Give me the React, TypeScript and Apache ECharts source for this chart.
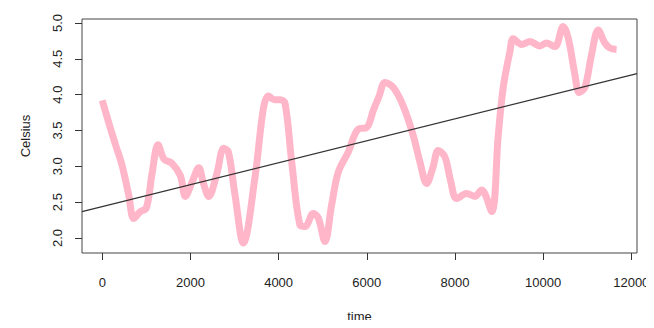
import React, { useEffect, useRef } from "react";
import * as echarts from "echarts";

const timeValues = [0, 150, 300, 450, 600, 714, 850, 1000, 1130, 1265, 1400, 1583, 1771, 1885, 2050, 2188, 2300, 2415, 2600, 2755, 2860, 3011, 3200, 3465, 3653, 3766, 3900, 4032, 4145, 4297, 4485, 4600, 4787, 4900, 5052, 5200, 5354, 5580, 5807, 5998, 6148, 6280, 6413, 6601, 6828, 7054, 7206, 7358, 7500, 7621, 7773, 7900, 8038, 8265, 8453, 8605, 8832, 8982, 9095, 9247, 9322, 9512, 9701, 9927, 10079, 10268, 10456, 10570, 10721, 10819, 10948, 11100, 11250, 11401, 11515, 11667];
const celsiusValues = [3.92, 3.6, 3.3, 3.01, 2.6, 2.27, 2.36, 2.42, 2.9, 3.3, 3.1, 3.04, 2.87, 2.58, 2.8, 2.98, 2.75, 2.58, 2.9, 3.25, 3.2, 2.6, 1.93, 2.85, 3.8, 3.98, 3.93, 3.93, 3.88, 3.06, 2.18, 2.16, 2.34, 2.28, 1.95, 2.45, 2.92, 3.2, 3.52, 3.54, 3.78, 3.98, 4.17, 4.1, 3.84, 3.43, 3.06, 2.76, 2.98, 3.22, 3.13, 2.8, 2.55, 2.62, 2.58, 2.67, 2.37, 3.43, 4.1, 4.6, 4.78, 4.7, 4.74, 4.68, 4.72, 4.67, 4.95, 4.79, 4.28, 4.03, 4.1, 4.56, 4.9, 4.72, 4.65, 4.63];
const trendIntercept = 2.438;
const trendSlope = 0.000153;
const xTicks = [0, 2000, 4000, 6000, 8000, 10000, 12000];
const yTicks = [2.0, 2.5, 3.0, 3.5, 4.0, 4.5, 5.0];
const xMin = -460;
const xMax = 12130;
const yMin = 1.79;
const yMax = 5.055;

export default function App() {
  const ref = useRef<HTMLDivElement>(null);
  useEffect(() => {
    if (!ref.current) return;
    const chart = echarts.init(ref.current, null, { renderer: "svg" });
    const font = "Liberation Sans, Arial, sans-serif";
    const pink = timeValues.map((t, i) => [t, celsiusValues[i]]);
    const trend = [xMin, xMax].map((t) => [t, trendIntercept + trendSlope * t]);
    chart.setOption({
      animation: false,
      backgroundColor: "#ffffff",
      grid: {
        left: 82,
        right: 17,
        top: 19,
        bottom: 73,
        show: true,
        borderColor: "#444",
        borderWidth: 1,
        backgroundColor: "transparent",
      },
      xAxis: {
        type: "value",
        min: xMin,
        max: xMax,
        name: "time",
        nameLocation: "middle",
        nameGap: 57,
        nameTextStyle: { color: "#222", fontSize: 13, fontFamily: font },
        axisLine: { show: false, onZero: false },
        splitLine: { show: false },
        axisTick: {
          show: true,
          length: 7,
          inside: false,
          customValues: xTicks,
          lineStyle: { color: "#333" },
        },
        axisLabel: {
          customValues: xTicks,
          margin: 23,
          color: "#222",
          fontSize: 13,
          fontFamily: font,
          formatter: (v: number) => String(v),
        },
      },
      yAxis: {
        type: "value",
        min: yMin,
        max: yMax,
        name: "Celsius",
        nameLocation: "middle",
        nameRotate: 90,
        nameGap: 50,
        nameTextStyle: { color: "#222", fontSize: 13, fontFamily: font },
        axisLine: { show: false, onZero: false },
        splitLine: { show: false },
        axisTick: {
          show: true,
          length: 7,
          inside: false,
          customValues: yTicks,
          lineStyle: { color: "#333" },
        },
        axisLabel: {
          customValues: yTicks,
          rotate: 90,
          margin: 18,
          color: "#222",
          fontSize: 13,
          fontFamily: font,
          formatter: (v: number) => v.toFixed(1),
        },
      },
      series: [
        {
          type: "line",
          data: pink,
          smooth: 0.35,
          showSymbol: false,
          lineStyle: { color: "#FFB6C9", width: 7 },
          z: 2,
        },
        {
          type: "line",
          data: trend,
          showSymbol: false,
          lineStyle: { color: "#333", width: 1.2 },
          z: 3,
        },
      ],
    });
    return () => chart.dispose();
  }, []);
  return <div ref={ref} style={{ width: 654, height: 328, margin: -8 }} />;
}
